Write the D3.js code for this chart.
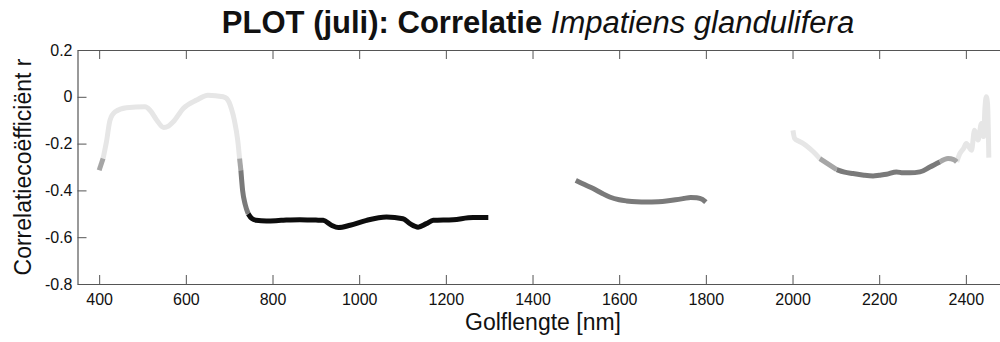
<!DOCTYPE html>
<html>
<head>
<meta charset="utf-8">
<script src="https://cdn.jsdelivr.net/npm/d3@7"></script>
<style>
  html, body { margin: 0; padding: 0; background: #fff; }
  svg { display: block; font-family: "Liberation Sans", Arial, Helvetica, sans-serif; }
</style>
</head>
<body>
<svg id="chart" width="1000" height="342"></svg>
<script>
// ---- data ----
const titleBold = "PLOT (juli): Correlatie ";
const titleItalic = "Impatiens glandulifera";
const xLabel = "Golflengte [nm]";
const yLabel = "Correlatiecoëfficiënt r";

const xTicks = [400, 600, 800, 1000, 1200, 1400, 1600, 1800, 2000, 2200, 2400];
const yTicks = [0.2, 0, -0.2, -0.4, -0.6, -0.8];
const yTickLabels = ["0.2", "0", "-0.2", "-0.4", "-0.6", "-0.8"];

// significance level per point: 0 = not significant (light), 1 = weak, 2 = medium, 3 = strong
const segA_wl = [400, 409, 417, 425, 437, 463, 506, 517, 533, 549, 560, 571, 594, 625, 651, 686, 694, 705, 712, 720, 724, 727, 731, 737, 744, 752, 762, 786, 820, 863, 900, 917, 936, 952, 979, 1017, 1063, 1101, 1117, 1136, 1155, 1171, 1217, 1263, 1298];
const segA_r  = [-0.314, -0.264, -0.19, -0.10, -0.064, -0.047, -0.043, -0.057, -0.10, -0.131, -0.125, -0.107, -0.05, -0.014, 0.007, 0.0, -0.007, -0.05, -0.10, -0.19, -0.264, -0.314, -0.40, -0.46, -0.50, -0.52, -0.528, -0.531, -0.528, -0.525, -0.527, -0.528, -0.549, -0.559, -0.549, -0.528, -0.514, -0.521, -0.542, -0.557, -0.542, -0.528, -0.525, -0.516, -0.516];
const segA_lv = [1, 0, 0, 0, 0, 0, 0, 0, 0, 0, 0, 0, 0, 0, 0, 0, 0, 0, 0, 0, 1, 2, 2, 2, 3, 3, 3, 3, 3, 3, 3, 3, 3, 3, 3, 3, 3, 3, 3, 3, 3, 3, 3, 3, 3];

const segB_wl = [1500, 1520, 1540, 1560, 1578, 1600, 1617, 1640, 1663, 1690, 1709, 1730, 1748, 1765, 1779, 1792, 1800];
const segB_r  = [-0.357, -0.375, -0.392, -0.412, -0.428, -0.440, -0.445, -0.449, -0.450, -0.448, -0.445, -0.440, -0.435, -0.430, -0.431, -0.438, -0.450];
const segB_lv = [2, 2, 2, 2, 2, 2, 2, 2, 2, 2, 2, 2, 2, 2, 2, 2, 2];

const segC_wl = [2001, 2005, 2015, 2025, 2048, 2063, 2086, 2102, 2120, 2140, 2165, 2186, 2200, 2217, 2240, 2255, 2271, 2294, 2317, 2340, 2359, 2372, 2379, 2386, 2395, 2401, 2413, 2420, 2428, 2436, 2441, 2444, 2447, 2450, 2453];
const segC_r  = [-0.143, -0.178, -0.19, -0.20, -0.235, -0.264, -0.292, -0.311, -0.322, -0.328, -0.335, -0.338, -0.335, -0.331, -0.321, -0.325, -0.325, -0.321, -0.300, -0.278, -0.264, -0.268, -0.278, -0.243, -0.22, -0.20, -0.228, -0.143, -0.185, -0.114, -0.17, -0.05, 0.0, -0.03, -0.26];
const segC_lv = [0, 0, 0, 0, 0, 1, 1, 2, 2, 2, 2, 2, 2, 2, 2, 2, 2, 2, 2, 1, 1, 1, 0, 0, 0, 0, 0, 0, 0, 0, 0, 0, 0, 0, 0];

const levelColors = ["#e6e6e6", "#a6a6a6", "#7a7a7a", "#0d0d0d"];

// ---- layout ----
const svg = d3.select("#chart");
const x = d3.scaleLinear().domain([350, 2500]).range([77.5, 1009.2]);
const y = d3.scaleLinear().domain([-0.8, 0.2]).range([284, 50]);

const axisColor = "#555";

const plotG = svg.append("g");

const line = d3.line().x(d => x(d[0])).y(d => y(d[1])).curve(d3.curveMonotoneX);

function drawSegment(wl, r, lv) {
  const pts = wl.map((w, i) => [w, r[i], lv[i]]);
  let runs = [];
  let cur = { lv: pts[0][2], pts: [pts[0]] };
  for (let i = 1; i < pts.length; i++) {
    if (pts[i][2] !== cur.lv) {
      cur.pts.push(pts[i]);
      runs.push(cur);
      cur = { lv: pts[i][2], pts: [pts[i]] };
    } else {
      cur.pts.push(pts[i]);
    }
  }
  runs.push(cur);
  runs.sort((a, b) => a.lv - b.lv);
  runs.forEach(run => {
    plotG.append("path")
      .attr("d", line(run.pts))
      .attr("fill", "none")
      .attr("stroke", levelColors[run.lv])
      .attr("stroke-width", 5)
      .attr("stroke-linejoin", "round")
      .attr("stroke-linecap", "butt");
  });
}
drawSegment(segA_wl, segA_r, segA_lv);
drawSegment(segB_wl, segB_r, segB_lv);
drawSegment(segC_wl, segC_r, segC_lv);

// axes (MATLAB-style box with inward ticks)
const fmtY = d => yTickLabels[yTicks.indexOf(d)];
const gB = svg.append("g").attr("transform", `translate(0,${y(-0.8)})`)
  .call(d3.axisBottom(x).tickValues(xTicks).tickSizeInner(-9).tickSizeOuter(0).tickPadding(10).tickFormat(d3.format("d")));
const gT = svg.append("g").attr("transform", `translate(0,${y(0.2)})`)
  .call(d3.axisTop(x).tickValues(xTicks).tickSizeInner(-9).tickSizeOuter(0).tickFormat(""));
const gL = svg.append("g").attr("transform", `translate(${x(350)},0)`)
  .call(d3.axisLeft(y).tickValues(yTicks).tickSizeInner(-9).tickSizeOuter(0).tickPadding(5).tickFormat(fmtY));
const gR = svg.append("g").attr("transform", `translate(${x(2500)},0)`)
  .call(d3.axisRight(y).tickValues(yTicks).tickSizeInner(-9).tickSizeOuter(0).tickFormat(""));

[gB, gT, gL, gR].forEach(g => {
  g.select(".domain").attr("stroke", axisColor).attr("stroke-width", 1.2);
  g.selectAll(".tick line").attr("stroke", axisColor).attr("stroke-width", 1);
  g.selectAll(".tick text").attr("fill", "#111").attr("font-size", 16)
    .attr("font-family", "Liberation Sans, Arial, sans-serif");
});

// title
const title = svg.append("text")
  .attr("x", 538).attr("y", 33)
  .attr("text-anchor", "middle")
  .attr("font-size", 31)
  .attr("fill", "#111");
title.append("tspan").attr("font-weight", "bold").text(titleBold);
title.append("tspan").attr("font-style", "italic").text(titleItalic);

// x label
svg.append("text")
  .attr("x", 543).attr("y", 330)
  .attr("text-anchor", "middle")
  .attr("font-size", 23)
  .attr("fill", "#111")
  .text(xLabel);

// y label
svg.append("text")
  .attr("transform", `translate(31,${(y(0.2) + y(-0.8)) / 2}) rotate(-90)`)
  .attr("text-anchor", "middle")
  .attr("font-size", 23)
  .attr("fill", "#111")
  .text(yLabel);
</script>
</body>
</html>
